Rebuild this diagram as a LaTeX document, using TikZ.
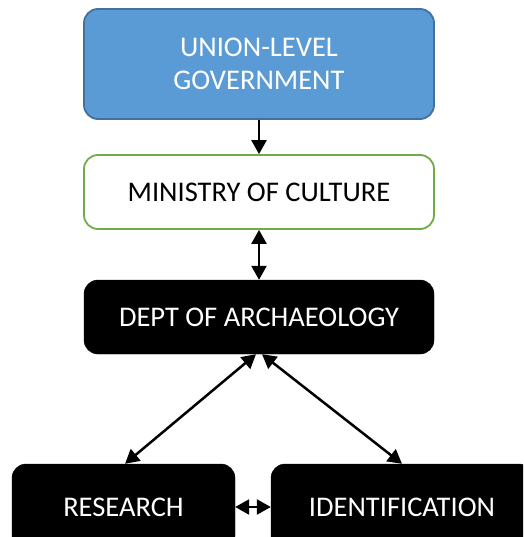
\documentclass[tikz,border=0pt]{standalone}
\usepackage{fontspec}
\setmainfont{Carlito}
\usetikzlibrary{arrows.meta}
\definecolor{boxblue}{HTML}{5B9BD5}
\definecolor{blueedge}{HTML}{41719C}
\definecolor{boxgreen}{HTML}{70AD47}
\tikzset{
  base/.style={rounded corners=14pt, inner sep=0pt, align=center,
    font=\fontsize{28.5}{33}\selectfont},
  bluebox/.style={base, fill=boxblue, draw=blueedge, line width=1.8pt, text=white},
  greenbox/.style={base, fill=white, draw=boxgreen, line width=1.8pt, text=black},
  blackbox/.style={base, fill=black, draw=black, text=white},
  onearrow/.style={line width=2.5pt, -{Triangle[length=14pt,width=15pt]}},
  twoarrow/.style={line width=2.5pt, {Triangle[length=14pt,width=15pt]}-{Triangle[length=14pt,width=15pt]}}
}
\begin{document}
\begin{tikzpicture}[x=1pt,y=-1pt]
\useasboundingbox (0,0) rectangle (523,537);
\clip (0,0) rectangle (523,537);
\node[bluebox, minimum width=350pt, minimum height=110pt] (gov) at (259,64) {UNION-LEVEL\\GOVERNMENT};
\node[greenbox, minimum width=350pt, minimum height=74pt] (min) at (259,192) {MINISTRY OF CULTURE};
\node[blackbox, minimum width=350pt, minimum height=74pt] (dept) at (259,317) {DEPT OF ARCHAEOLOGY};
\node[blackbox, minimum width=223pt, minimum height=86pt] (res) at (123.5,507) {RESEARCH};
\node[blackbox, minimum width=262pt, minimum height=86pt] (ident) at (402,507) {IDENTIFICATION};
\draw[onearrow] (gov.south) -- (min.north);
\draw[twoarrow] (min.south) -- (dept.north);
\draw[twoarrow] ([xshift=-3pt]dept.south) -- ([xshift=1.5pt]res.north);
\draw[twoarrow] ([xshift=3pt]dept.south) -- (ident.north);
\draw[twoarrow] (res.east) -- (ident.west);
\end{tikzpicture}
\end{document}
